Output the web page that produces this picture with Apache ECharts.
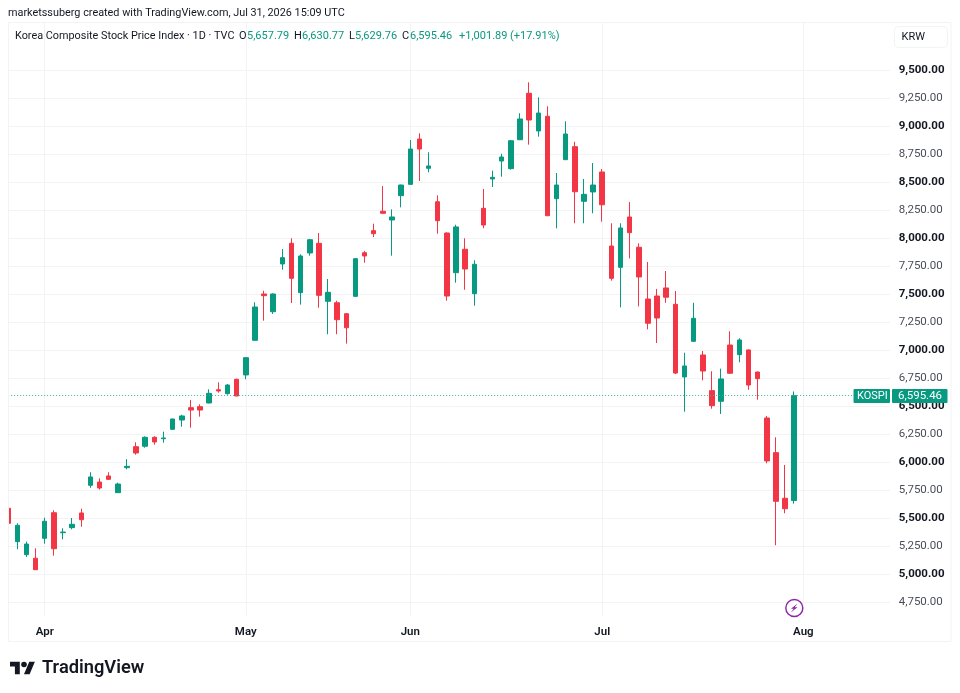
<!DOCTYPE html>
<html>
<head>
<meta charset="utf-8">
<style>html,body{margin:0;padding:0;background:#fff}#c{width:960px;height:693px}</style>
<script src="https://cdn.jsdelivr.net/npm/echarts@6/dist/echarts.min.js"></script>
</head>
<body>
<div id="c"></div>
<script>
const categories = [
 '03-26','03-27','03-30','03-31',
 '04-01','04-02','04-03','04-06','04-07','04-08','04-09','04-10','04-13','04-14','04-15','04-16','04-17','04-20','04-21','04-22','04-23','04-24','04-27','04-28','04-29','04-30',
 '05-04','05-06','05-07','05-08','05-11','05-12','05-13','05-14','05-15','05-18','05-19','05-20','05-21','05-22','05-26','05-27','05-28','05-29',
 '06-01','06-02','06-04','06-05','06-08','06-09','06-10','06-11','06-12','06-15','06-16','06-17','06-18','06-19','06-22','06-23','06-24','06-25','06-26','06-29','06-30',
 '07-01','07-02','07-03','07-06','07-07','07-08','07-09','07-10','07-13','07-14','07-15','07-16','07-20','07-21','07-22','07-23','07-24','07-27','07-28','07-29','07-30','07-31',
 '08-03','08-04','08-05','08-06','08-07','08-10','08-11','08-12','08-13','08-14','08-17'];
const opens = [5589,5291,5175,5143,5321,5549,5371,5416,5547,5794,5823,5877,5728,5951,6138,6142,6222,6209,6293,6376,6486,6495,6528,6646,6611,6739,
 6778,7087,7500,7342,7768,7952,7512,7866,7952,7435,7422,7324,7479,7868,8065,8238,8160,8377,
 8478,8882,8621,8323,8044,7690,7899,7503,8264,8526,8686,8618,8876,9290,8954,9085,8350,8698,8814,8327,8410,
 8588,7928,7738,8187,7917,7455,7482,7554,7408,6760,7078,6956,6638,6543,7045,6959,7001,6804,6394,6085,5678,5657.79];
const closes = [5455,5437,5270,5041,5473,5228,5377,5446,5487,5868,5770,5847,5805,5963,6082,6222,6180,6216,6385,6412,6465,6465,6614,6635,6688,6590,
 6932,7384,7485,7500,7824,7640,7839,7984,7488,7515,7271,7199,7815,7839,8038,8220,8187,8472,
 8793,8793,8642,8154,7482,8098,7723,7765,8115,8541,8722,8867,9061,9052,9114,8198,8472,8927,8412,8389,8472,
 8296,7640,8089,8047,7652,7239,7286,7471,6795,6858,7283,6813,6504,6742,6793,7090,6688,6745,6011,5651,5585,6595.46];
const lows = [5450,5223,5154,5038,5273,5166,5312,5401,5425,5772,5755,5844,5725,5936,6067,6129,6156,6174,6287,6316,6308,6406,6525,6620,6602,6588,
 6739,7084,7262,7322,7717,7420,7405,7842,7378,7141,7141,7057,7476,7779,8008,8216,7842,8273,
 8475,8508,8585,8038,7440,7601,7538,7396,8086,8454,8546,8609,8873,8832,8903,8195,8086,8695,8131,8131,8220,
 8145,7619,7381,7818,7390,7185,7063,7422,6786,6450,7075,6730,6477,6430,6790,6891,6646,6557,5990,5259,5544,5629.76];
const highs = [5595,5455,5291,5232,5505,5571,5410,5502,5585,5910,5856,5910,5817,6026,6177,6231,6231,6272,6388,6423,6555,6516,6650,6712,6697,6745,
 6938,7426,7529,7506,7901,7997,7854,7991,8044,7634,7440,7331,7821,7884,8127,8463,8255,8475,
 8873,8933,8764,8380,8050,8118,7997,7801,8437,8600,8751,8873,9112,9388,9254,9174,8579,9040,8858,8526,8668,
 8615,8131,8131,8320,7952,7785,7545,7705,7527,6976,7422,6992,6811,6834,7167,7105,7005,6808,6412,6222,5975,6630.77];
const priceTicks = [4750,5000,5250,5500,5750,6000,6250,6500,6750,7000,7250,7500,7750,8000,8250,8500,8750,9000,9250,9500];
const monthNames = {'03':'Mar','04':'Apr','05':'May','06':'Jun','07':'Jul','08':'Aug'};
const lastClose = 6595.46;
const UP = '#089981', DOWN = '#F23645', INK = '#131722', GRID = '#f2f3f5';
const FONT = 'Roboto, "Liberation Sans", sans-serif';

const isMonthStart = i => i > 0 && categories[i].slice(0,2) !== categories[i-1].slice(0,2);
const fmt = v => v.toLocaleString('en-US',{minimumFractionDigits:2,maximumFractionDigits:2});
const candles = categories.map((c,i)=> i < opens.length ? [opens[i],closes[i],lows[i],highs[i]] : '-');

const chart = echarts.init(document.getElementById('c'), null, {renderer:'canvas'});
chart.setOption({
  animation:false,
  backgroundColor:'#fff',
  grid:{left:8.14, right:960-894.72, top:22, bottom:693-616, containLabel:false},
  xAxis:{
    type:'category', data:categories, boundaryGap:false,
    axisLine:{show:false}, axisTick:{show:false},
    axisLabel:{interval:(i)=>isMonthStart(i), margin:10, fontFamily:FONT, fontSize:11.5, fontWeight:600, color:INK,
      formatter:(v)=>monthNames[v.slice(0,2)]},
    splitLine:{show:true, interval:(i)=>isMonthStart(i), lineStyle:{color:GRID,width:1}}
  },
  yAxis:{
    type:'value', position:'right', min:4628, max:9926, scale:true,
    axisLine:{show:false},
    axisTick:{show:false, customValues:priceTicks},
    splitLine:{show:true, lineStyle:{color:GRID,width:1}},
    axisLabel:{customValues:priceTicks, margin:4, align:'left',
      formatter:(v)=> (v%500===0 ? '{b|' : '{n|') + fmt(v) + '}',
      rich:{
        b:{fontFamily:FONT,fontSize:11.5,fontWeight:700,color:INK},
        n:{fontFamily:FONT,fontSize:11.5,fontWeight:400,color:'#4a4e59'}
      }}
  },
  series:[{
    type:'candlestick', data:candles, barWidth:5, clip:true,
    itemStyle:{color:UP,color0:DOWN,borderColor:UP,borderColor0:DOWN,borderWidth:1},
    markLine:{silent:true,symbol:'none',label:{show:false},animation:false,
      lineStyle:{color:'#3fb3a0',type:[1,2],width:1},
      data:[{yAxis:lastClose}]}
  }],
  graphic:{elements:[
    {type:'rect',z:10,shape:{x:0,y:0,width:8.5,height:693},style:{fill:'#fff'}},
    {type:'rect',z:10,shape:{x:890,y:23,width:7,height:593},style:{fill:'#fff'}},
    {type:'rect',z:11,shape:{x:8.5,y:22.5,width:942.5,height:619},style:{fill:'none',stroke:'#f2f3f5',lineWidth:1}},
    {type:'text',z:12,x:8,y:13,style:{text:'marketssuberg created with TradingView.com, Jul 31, 2026 15:09 UTC',font:'400 10.85px '+FONT,fill:INK,textVerticalAlign:'middle'}},
    {type:'text',z:12,x:15,y:36,style:{text:'Korea Composite Stock Price Index · 1D · TVC',font:'400 10.85px '+FONT,fill:INK,textVerticalAlign:'middle'}},
    ...[['O',239],['H',294],['L',349],['C',402]].map(([t,x])=>({type:'text',z:12,x,y:36,style:{text:t,font:'400 11px '+FONT,fill:INK,textVerticalAlign:'middle'}})),
    ...[['5,657.79',247],['6,630.77',302],['5,629.76',355],['6,595.46',410],['+1,001.89',459],['(+17.91%)',510]].map(([t,x])=>({type:'text',z:12,x,y:36,style:{text:t,font:'400 11px '+FONT,fill:UP,textVerticalAlign:'middle'}})),
    {type:'rect',z:12,shape:{x:894.5,y:26.5,width:53,height:21,r:4},style:{fill:'#fff',stroke:'#f2f3f5',lineWidth:1}},
    {type:'text',z:13,x:901.5,y:37,style:{text:'KRW',font:'400 11px '+FONT,fill:INK,textVerticalAlign:'middle'}},
    {type:'rect',z:12,shape:{x:853.5,y:389,width:36.5,height:14,r:1},style:{fill:UP}},
    {type:'rect',z:12,shape:{x:892,y:389,width:55.5,height:14,r:1},style:{fill:UP}},
    {type:'text',z:13,x:857,y:396,style:{text:'KOSPI',font:'400 11px '+FONT,fill:'#fff',textVerticalAlign:'middle'}},
    {type:'text',z:13,x:898,y:396,style:{text:'6,595.46',font:'400 11.5px '+FONT,fill:'#fff',textVerticalAlign:'middle'}},
    {type:'circle',z:12,shape:{cx:794.3,cy:608,r:8.5},style:{fill:'#fff',stroke:'#8E24AA',lineWidth:1.4}},
    {type:'polygon',z:13,shape:{points:[[797.5,603.5],[791,608.8],[793.8,608.8],[790.8,612.5],[797.5,607.3],[794.7,607.3]]},style:{fill:'#8E24AA'}},
    {type:'polygon',z:12,shape:{points:[[19.8,674.3],[14.9,674.3],[14.9,666.6],[10,666.6],[10,661.7],[19.8,661.7]]},style:{fill:INK}},
    {type:'polygon',z:12,shape:{points:[[29.6,674.3],[24,674.3],[29.25,661.7],[34.85,661.7]]},style:{fill:INK}},
    {type:'circle',z:12,shape:{cx:24,cy:664.5,r:2.8},style:{fill:INK}},
    {type:'text',z:12,x:42,y:668,style:{text:'TradingView',font:'600 18.3px '+FONT,fill:INK,textVerticalAlign:'middle'}}
  ]}
});
</script>
</body>
</html>
